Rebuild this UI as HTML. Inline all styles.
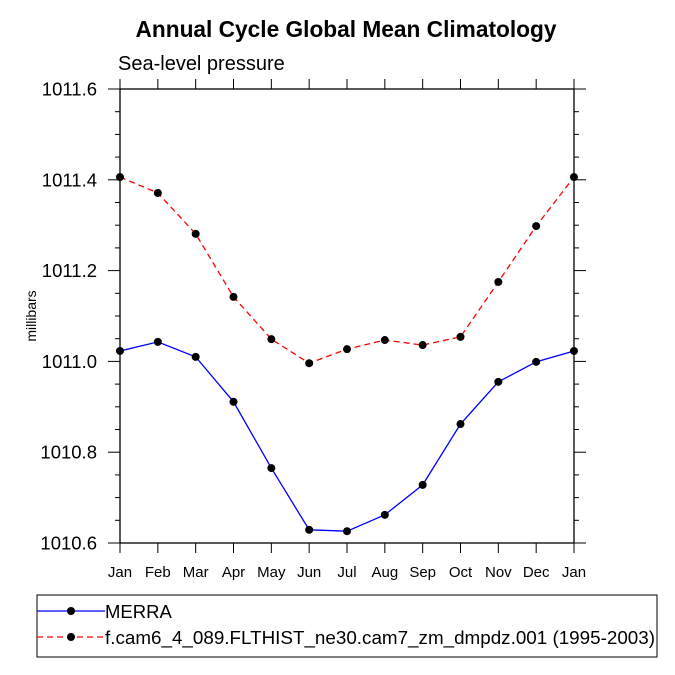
<!DOCTYPE html>
<html><head><meta charset="utf-8"><style>
body{margin:0;background:#fff;}
svg{display:block;font-family:"Liberation Sans",Arial,sans-serif;}
</style></head><body>
<svg id="c" width="675" height="675" viewBox="0 0 675 675">
<text x="346" y="37" text-anchor="middle" font-size="22.7" font-weight="bold">Annual Cycle Global Mean Climatology</text>
<text x="118" y="70" font-size="20">Sea-level pressure</text>
<text transform="translate(36,316) rotate(-90)" text-anchor="middle" font-size="14">millibars</text>
<g id="axes"></g>
<g id="series"></g>
<g>
<rect x="37" y="595" width="620" height="62" fill="none" stroke="#000" stroke-width="1"/>
<g>
<line x1="37" y1="611" x2="105" y2="611" stroke="#0000ff" stroke-width="1.2"/>
<circle cx="71" cy="611" r="4" fill="#000"/>
<text x="105" y="618" font-size="18.5">MERRA</text></g>
<g>
<line x1="37" y1="637" x2="105" y2="637" stroke="#ff0000" stroke-width="1.2" stroke-dasharray="6,4"/>
<circle cx="71" cy="637" r="4" fill="#000"/>
<text x="105" y="644" font-size="18.5" textLength="550" lengthAdjust="spacingAndGlyphs">f.cam6_4_089.FLTHIST_ne30.cam7_zm_dmpdz.001 (1995-2003)</text></g>
</g>
</svg>
<script>
const months=["Jan","Feb","Mar","Apr","May","Jun","Jul","Aug","Sep","Oct","Nov","Dec","Jan"];
const yTicks=[1010.6,1010.8,1011.0,1011.2,1011.4,1011.6];
const yTickLabels=["1010.6","1010.8","1011.0","1011.2","1011.4","1011.6"];
const merra=[1011.023,1011.043,1011.010,1010.911,1010.765,1010.629,1010.626,1010.662,1010.728,1010.862,1010.955,1010.999,1011.023];
const model=[1011.406,1011.371,1011.281,1011.142,1011.049,1010.996,1011.027,1011.047,1011.036,1011.054,1011.175,1011.298,1011.406];
const L=120,R=574,T=89,B=543,ymin=1010.6,ymax=1011.6;
const xs=i=>L+i*(R-L)/(months.length-1);
const ys=v=>B-(v-ymin)/(ymax-ymin)*(B-T);
const NS="http://www.w3.org/2000/svg";
function mk(t,a,p){const e=document.createElementNS(NS,t);for(const k in a)e.setAttribute(k,a[k]);p.appendChild(e);return e;}
const ax=document.getElementById('axes');
const frame=mk('rect',{x:L,y:T,width:R-L,height:B-T,fill:'none',stroke:'#000','stroke-width':1.3},ax);


for(let v=ymin;v<=ymax+1e-9;v+=0.05){
  const y=ys(v);const major=Math.abs(Math.round(v*10)/10-v)<1e-6&&Math.round(v*10)%2===0;
  const len=major?12:5;
  mk('line',{x1:L-len,y1:y,x2:L,y2:y,stroke:'#000','stroke-width':1},ax);
  mk('line',{x1:R,y1:y,x2:R+len,y2:y,stroke:'#000','stroke-width':1},ax);
}
yTicks.forEach((v,i)=>{
  const t=mk('text',{x:97,y:ys(v)+6.5,'text-anchor':'end','font-size':18.5},ax);
  t.textContent=yTickLabels[i];
  
  
});
months.forEach((m,i)=>{
  const x=xs(i);
  mk('line',{x1:x,y1:B,x2:x,y2:B+10,stroke:'#000','stroke-width':1},ax);
  mk('line',{x1:x,y1:T-10,x2:x,y2:T,stroke:'#000','stroke-width':1},ax);
  const t=mk('text',{x:x,y:B+34,'text-anchor':'middle','font-size':15},ax);
  t.textContent=m;
  
  
});
const sg=document.getElementById('series');
function draw(vals,color,dash,name){
  const g=mk('g',{},sg);
  
  
  const a={points:vals.map((v,i)=>xs(i)+','+ys(v)).join(' '),fill:'none',stroke:color,'stroke-width':1.3};
  if(dash)a['stroke-dasharray']=dash;
  const pl=mk('polyline',a,g);
  
  
  vals.forEach((v,i)=>{
    const c=mk('circle',{cx:xs(i),cy:ys(v),r:4,fill:'#000'},g);
    
    
  });
}
draw(model,'#ff0000','6,4','model-series');
draw(merra,'#0000ff',null,'merra-series');
</script>
</body></html>
